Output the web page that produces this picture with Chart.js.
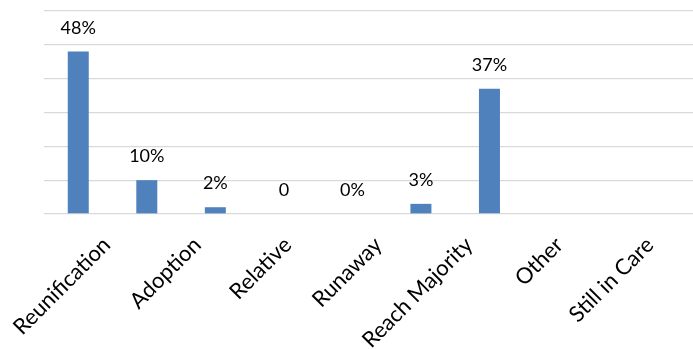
<!DOCTYPE html>
<html>
<head>
<meta charset="utf-8">
<script src="https://cdn.jsdelivr.net/npm/chart.js@4.4.1/dist/chart.umd.min.js"></script>
<style>
  html, body { margin: 0; padding: 0; background: #fff; overflow: hidden; }
  #wrap { width: 693px; height: 349px; }
</style>
</head>
<body>
<div id="wrap"><canvas id="outcomes"></canvas></div>
<script>
// Outcomes
var categories = ['Reunification', 'Adoption', 'Relative', 'Runaway', 'Reach Majority', 'Other', 'Still in Care'];
var percents = [48, 10, 2, 0, 0, 3, 37];
var valueLabels = ['48%', '10%', '2%', '0', '0%', '3%', '37%'];

var FONT = 'Lato, "Open Sans", sans-serif';

// category names are spread wider than the bars themselves
var LABEL_START = 0.416;
var LABEL_STEP = 1.321;

// Value text above each bar
var barLabels = {
    id: 'barLabels',
    afterDatasetsDraw: function (chart) {
        var ctx = chart.ctx;
        var meta = chart.getDatasetMeta(0);
        ctx.save();
        ctx.font = '18px ' + FONT;
        ctx.fillStyle = '#000';
        ctx.textAlign = 'center';
        ctx.textBaseline = 'alphabetic';
        meta.data.forEach(function (bar, i) {
            ctx.fillText(valueLabels[i], bar.x, bar.y - 18);
        });
        ctx.restore();
    }
};

var points = categories.map(function (c, i) {
    return { x: i, y: percents[i] };
});

var chart = new Chart(document.getElementById('outcomes'), {
    type: 'bar',
    data: {
        datasets: [{
            data: points,
            backgroundColor: '#4f81bd',
            barThickness: 21,
            inflateAmount: 0
        }]
    },
    options: {
        responsive: true,
        maintainAspectRatio: false,
        animation: false,
        layout: { padding: { left: 44, top: 11, right: 0, bottom: 0 } },
        plugins: {
            legend: { display: false },
            tooltip: { enabled: false }
        },
        scales: {
            x: {
                type: 'linear',
                offset: false,
                min: -0.5,
                max: 8.97,
                grid: { display: false, offset: false },
                border: { display: false },
                afterBuildTicks: function (scale) {
                    scale.ticks = categories.map(function (c, i) {
                        return { value: LABEL_START + LABEL_STEP * i };
                    });
                },
                afterFit: function (scale) {
                    scale.height = 135;
                    scale.paddingLeft = 0;
                    scale.paddingRight = 0;
                },
                ticks: {
                    autoSkip: false,
                    minRotation: 45,
                    maxRotation: 45,
                    labelOffset: 0,
                    padding: 10,
                    color: '#000',
                    font: { family: FONT, size: 22 },
                    callback: function (v, i) { return categories[i]; }
                }
            },
            y: {
                min: 0,
                max: 60,
                afterFit: function (scale) { scale.width = 0; },
                ticks: { display: false, stepSize: 10 },
                border: { display: false },
                grid: { color: '#d9d9d9', lineWidth: 1.3, drawTicks: false }
            }
        }
    },
    plugins: [barLabels]
});
</script>
</body>
</html>
